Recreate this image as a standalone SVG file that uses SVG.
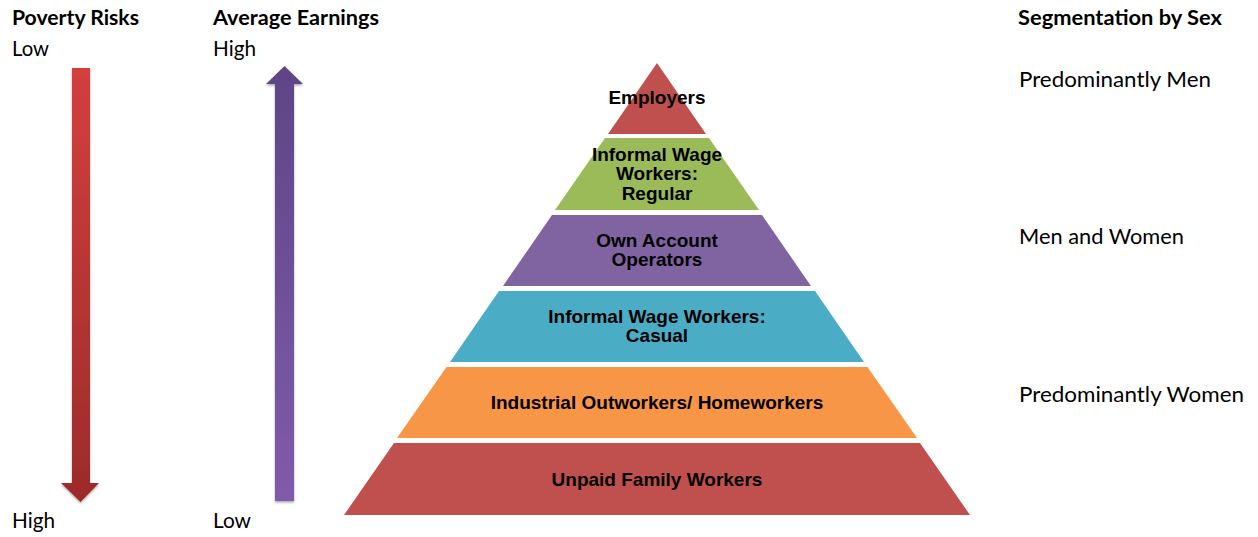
<svg xmlns="http://www.w3.org/2000/svg" width="1258" height="537" viewBox="0 0 1258 537">
<style>
.hdr{font-family:Lato,"Open Sans",sans-serif;font-weight:bold;font-size:21px;fill:#000}
.lbl{font-family:Lato,"Open Sans",sans-serif;font-size:21px;fill:#000}
.lay{font-family:"Liberation Sans",Arial,sans-serif;font-weight:bold;font-size:19px;fill:#000;text-anchor:middle}
</style>
<defs>
<linearGradient id="gRed" x1="0" y1="0" x2="0" y2="1">
<stop offset="0" stop-color="#D33F3D"/><stop offset="1" stop-color="#9C2B2A"/>
</linearGradient>
<linearGradient id="gPur" x1="0" y1="0" x2="0" y2="1">
<stop offset="0" stop-color="#5E4586"/><stop offset="1" stop-color="#7F5BAA"/>
</linearGradient>
<filter id="sh" x="-50%" y="-10%" width="200%" height="120%">
<feDropShadow dx="0" dy="1.5" stdDeviation="1.2" flood-color="#000" flood-opacity="0.35"/>
</filter>
</defs>
<rect width="1258" height="537" fill="#fff"/>

<g id="poverty-risks">
<text class="hdr" x="12" y="25" textLength="127" lengthAdjust="spacingAndGlyphs">Poverty Risks</text>
<text class="lbl" x="12" y="56" textLength="37" lengthAdjust="spacingAndGlyphs">Low</text>
<text class="lbl" x="12" y="528" textLength="43" lengthAdjust="spacingAndGlyphs">High</text>
<path d="M72,68 H90 V483 H99 L80.5,502 L61,483 H72 Z" fill="url(#gRed)" filter="url(#sh)"/>
</g>

<g id="average-earnings">
<text class="hdr" x="213" y="25" textLength="166" lengthAdjust="spacingAndGlyphs">Average Earnings</text>
<text class="lbl" x="213" y="56" textLength="43" lengthAdjust="spacingAndGlyphs">High</text>
<text class="lbl" x="213" y="528" textLength="38" lengthAdjust="spacingAndGlyphs">Low</text>
<path d="M284.5,66 L303,84 H294 V501 H275 V84 H266 Z" fill="url(#gPur)" filter="url(#sh)"/>
</g>

<g id="employers">
<polygon points="657,63 706,134 608,134" fill="#C0504D"/>
<text class="lay" x="657" y="104">Employers</text>
</g>
<g id="informal-regular">
<polygon points="605,138 709,138 759,210 555,210" fill="#9BBB59"/>
<text class="lay" x="657" y="161">Informal Wage</text>
<text class="lay" x="657" y="180">Workers:</text>
<text class="lay" x="657" y="200">Regular</text>
</g>
<g id="own-account">
<polygon points="552,215 762,215 811,286 503,286" fill="#8064A2"/>
<text class="lay" x="657" y="247">Own Account</text>
<text class="lay" x="657" y="266">Operators</text>
</g>
<g id="informal-casual">
<polygon points="499,291 815,291 864,362 450,362" fill="#4BACC6"/>
<text class="lay" x="657" y="323">Informal Wage Workers:</text>
<text class="lay" x="657" y="342">Casual</text>
</g>
<g id="industrial-outworkers">
<polygon points="446.5,367 867.5,367 917,438 397,438" fill="#F79646"/>
<text class="lay" x="657" y="409">Industrial Outworkers/ Homeworkers</text>
</g>
<g id="unpaid-family">
<polygon points="394,443 920,443 970,515 344,515" fill="#C0504D"/>
<text class="lay" x="657" y="486">Unpaid Family Workers</text>
</g>

<g id="segmentation">
<text class="hdr" x="1018" y="25" textLength="204" lengthAdjust="spacingAndGlyphs">Segmentation by Sex</text>
<text class="lbl" x="1019" y="87" textLength="192" lengthAdjust="spacingAndGlyphs">Predominantly Men</text>
<text class="lbl" x="1019" y="244" textLength="165" lengthAdjust="spacingAndGlyphs">Men and Women</text>
<text class="lbl" x="1019" y="402" textLength="225" lengthAdjust="spacingAndGlyphs">Predominantly Women</text>
</g>
<g id="connectors"></g>
</svg>
